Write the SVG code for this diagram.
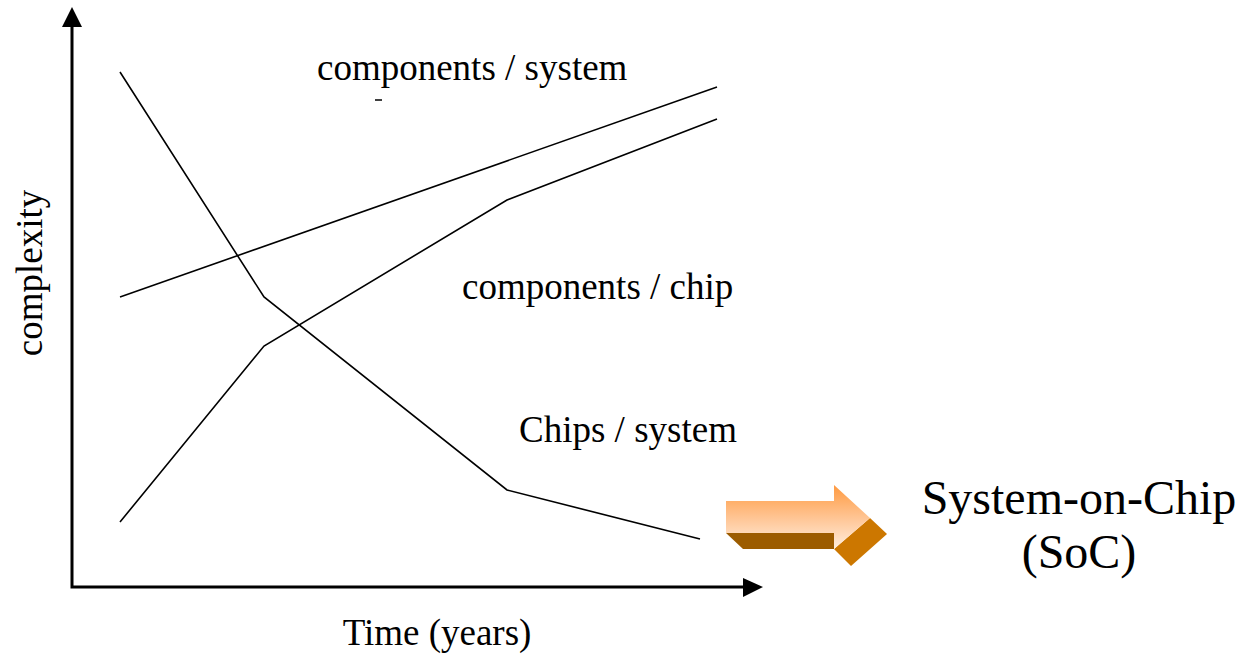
<svg xmlns="http://www.w3.org/2000/svg" width="1243" height="656" viewBox="0 0 1243 656">
  <style>
    .lbl { font-family: "Liberation Serif", "Times New Roman", serif; font-size: 37px; fill: #000; }
    .big { font-family: "Liberation Serif", "Times New Roman", serif; font-size: 48px; fill: #000; }
    .axis { stroke: #000; stroke-width: 3; fill: none; }
    .curve { stroke: #000; stroke-width: 1.6; fill: none; stroke-linejoin: miter; }
  </style>
  <defs>
    <linearGradient id="arrowFace" x1="0" y1="0" x2="0" y2="1">
      <stop offset="0" stop-color="#FF9A40"/>
      <stop offset="0.55" stop-color="#FFC89A"/>
      <stop offset="1" stop-color="#FFEEDD"/>
    </linearGradient>
  </defs>
  <rect width="1243" height="656" fill="#fff"/>

  <!-- axes -->
  <g id="axes">
    <path class="axis" d="M72 26 V587 H745"/>
    <polygon points="72,7 62,27 82,27" fill="#000"/>
    <polygon points="763,587 743,578 743,597" fill="#000"/>
  </g>

  <!-- trend lines -->
  <g id="connectors">
    <polyline class="curve" points="120,72 264,297 507,490 700,539"/>
    <polyline class="curve" points="120,522 264,346 507,200 717,119"/>
    <polyline class="curve" points="120,297 717,87"/>
    <line x1="375" y1="100" x2="382" y2="100" stroke="#000" stroke-width="1.5"/>
  </g>

  <g id="label-components-system">
    <text class="lbl" x="317" y="80">components / system</text>
  </g>
  <g id="label-components-chip">
    <text class="lbl" x="462" y="299">components / chip</text>
  </g>
  <g id="label-chips-system">
    <text class="lbl" x="519" y="442">Chips / system</text>
  </g>
  <g id="label-time">
    <text class="lbl" x="437" y="645" text-anchor="middle">Time (years)</text>
  </g>
  <g id="label-complexity">
    <text class="lbl" x="0" y="0" text-anchor="middle" transform="translate(42,273) rotate(-90)">complexity</text>
  </g>

  <!-- block arrow -->
  <g id="soc-arrow">
    <polygon points="726,533 834,533 834,549 743,549" fill="#9C5C00"/>
    <polygon points="870,518 887,534 851,566 834,549" fill="#CC7700"/>
    <polygon points="726,501 834,501 834,485 870,518 834,549 834,533 726,533" fill="url(#arrowFace)"/>
  </g>

  <g id="soc-label">
    <text class="big" x="1079" y="514" text-anchor="middle">System-on-Chip</text>
    <text class="big" x="1079" y="568" text-anchor="middle">(SoC)</text>
  </g>
</svg>
